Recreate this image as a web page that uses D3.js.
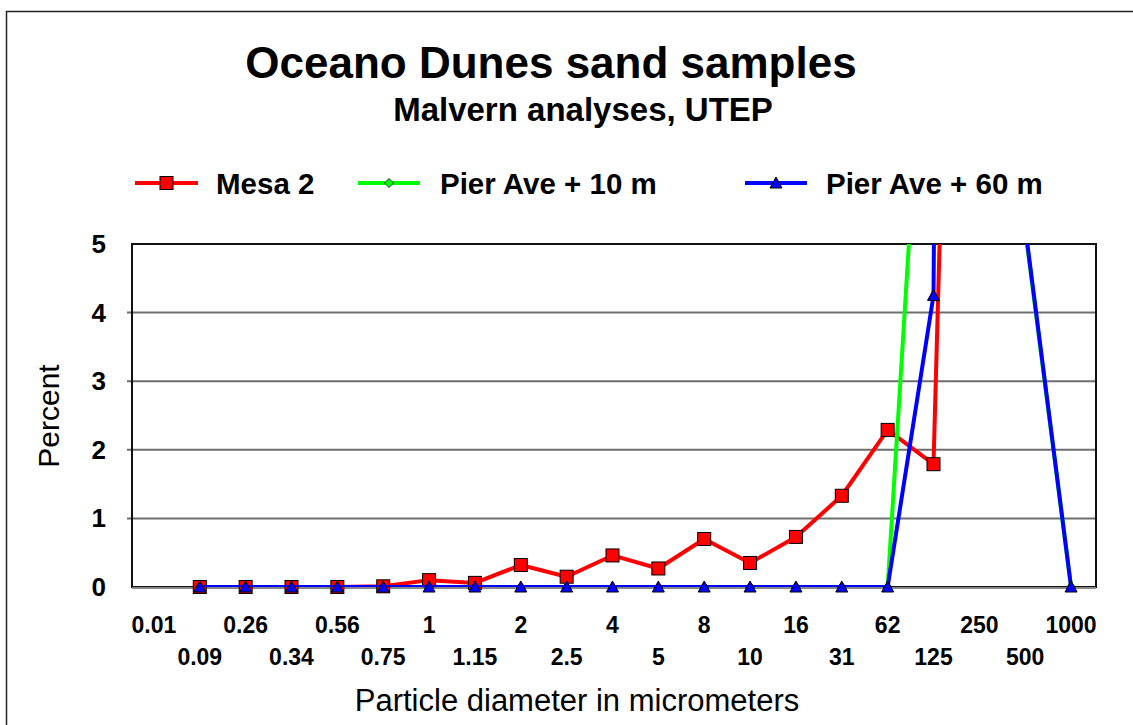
<!DOCTYPE html>
<html>
<head>
<meta charset="utf-8">
<script src="https://cdn.jsdelivr.net/npm/d3@7"></script>
<style>
  html, body { margin: 0; padding: 0; background: #fff; }
  svg { display: block; }
  text { font-family: "Liberation Sans", Arial, Helvetica, sans-serif; }
</style>
</head>
<body>
<svg id="chart" width="1133" height="725"></svg>
<script>
// ---------- data ----------
const categories = ["0.01","0.09","0.26","0.34","0.56","0.75","1","1.15","2","2.5","4","5","8","10","16","31","62","125","250","500","1000"];
const mesa2     = [null, 0, 0, 0, 0, 0.01, 0.10, 0.06, 0.32, 0.15, 0.46, 0.27, 0.70, 0.35, 0.73, 1.33, 2.29, 1.79, 26, 65, null];
const pier10    = [null, 0, 0, 0, 0, 0, 0, 0, 0, 0, 0, 0, 0, 0, 0, 0, 0, 10.8, 84, 5.2, 0];
const pier60    = [null, 0, 0, 0, 0, 0, 0, 0, 0, 0, 0, 0, 0, 0, 0, 0, 0, 4.25, 90.5, 5.25, 0];
const yTicks    = [0, 1, 2, 3, 4, 5];
const seriesNames = ["Mesa 2", "Pier Ave + 10 m", "Pier Ave + 60 m"];

// ---------- layout ----------
const svg = d3.select("#chart");
const plotLeft = 132, plotRight = 1096, plotTop = 244, plotBottom = 587;

const x = d3.scalePoint().domain(categories).range([plotLeft - 1, plotRight - 2]).padding(0.5);
const y = d3.scaleLinear().domain([0, 5]).range([plotBottom, plotTop]);

// outer chart border
svg.append("rect").attr("x", 6.5).attr("y", 11.5).attr("width", 1200).attr("height", 800)
  .attr("fill", "#fff").attr("stroke", "#222").attr("stroke-width", 1.5);

// titles
svg.append("text").attr("x", 551).attr("y", 78).attr("text-anchor", "middle")
  .attr("font-size", 44).attr("font-weight", "bold").text("Oceano Dunes sand samples");
svg.append("text").attr("x", 583).attr("y", 121).attr("text-anchor", "middle")
  .attr("font-size", 33).attr("font-weight", "bold").text("Malvern analyses, UTEP");

// gridlines
svg.append("g").selectAll("line").data(yTicks.filter(d => d > 0 && d < 5)).join("line")
  .attr("x1", plotLeft - 5).attr("x2", plotRight)
  .attr("y1", d => y(d)).attr("y2", d => y(d))
  .attr("stroke", "#6e6e6e").attr("stroke-width", 2);

// plot border
svg.append("rect").attr("x", plotLeft).attr("y", plotTop)
  .attr("width", plotRight - plotLeft).attr("height", plotBottom - plotTop)
  .attr("fill", "none").attr("stroke", "#111").attr("stroke-width", 2);
svg.append("line").attr("x1", plotLeft).attr("x2", plotRight)
  .attr("y1", plotBottom + 1).attr("y2", plotBottom + 1)
  .attr("stroke", "#888").attr("stroke-width", 2);

// y tick labels
svg.append("g").selectAll("text").data(yTicks).join("text")
  .attr("x", 106).attr("y", d => y(d) + 9).attr("text-anchor", "end")
  .attr("font-size", 26).attr("font-weight", "bold").text(d => d);

// x tick labels, alternating two rows
svg.append("g").selectAll("text").data(categories).join("text")
  .attr("x", d => x(d)).attr("y", (d, i) => i % 2 === 0 ? 633 : 665)
  .attr("text-anchor", "middle").attr("font-size", 23).attr("font-weight", "bold")
  .text(d => d);

// axis titles
svg.append("text").attr("transform", "translate(59,416) rotate(-90)").attr("text-anchor", "middle")
  .attr("font-size", 30).text("Percent");
svg.append("text").attr("x", 577).attr("y", 711).attr("text-anchor", "middle")
  .attr("font-size", 31).text("Particle diameter in micrometers");

// clips: lines clipped to the plot area, markers allowed to overhang a little
const defs = svg.append("defs");
defs.append("clipPath").attr("id", "clip").append("rect")
  .attr("x", plotLeft).attr("y", plotTop).attr("width", plotRight - plotLeft).attr("height", plotBottom - plotTop);
defs.append("clipPath").attr("id", "clipM").append("rect")
  .attr("x", plotLeft - 10).attr("y", plotTop - 10).attr("width", plotRight - plotLeft + 20).attr("height", plotBottom - plotTop + 20);

const series = [
  { name: seriesNames[0], values: mesa2, color: "#ff0000", marker: "square" },
  { name: seriesNames[1], values: pier10, color: "#00ff00", marker: "diamond" },
  { name: seriesNames[2], values: pier60, color: "#0000ff", marker: "triangle" }
];

const line = d3.line()
  .defined(d => d.v !== null)
  .x(d => x(d.c)).y(d => y(d.v));

function drawMarker(g, type, color, cx, cy, scale) {
  const s = scale || 1;
  if (type === "square") {
    g.append("rect").attr("x", cx - 6.5 * s).attr("y", cy - 6.5 * s)
      .attr("width", 13 * s).attr("height", 13 * s)
      .attr("fill", color).attr("stroke", "#000").attr("stroke-width", 1);
  } else if (type === "diamond") {
    const r = 4.5 * s;
    g.append("path").attr("d", `M${cx},${cy - r}L${cx + r},${cy}L${cx},${cy + r}L${cx - r},${cy}Z`)
      .attr("fill", color).attr("stroke", "#000").attr("stroke-width", 0.8);
  } else {
    const h = 10 * s, w = 12 * s;
    g.append("path").attr("d", `M${cx},${cy - h / 2 - 1}L${cx + w / 2},${cy + h / 2}L${cx - w / 2},${cy + h / 2}Z`)
      .attr("fill", color).attr("stroke", "#000").attr("stroke-width", 1);
  }
}

const lineG = svg.append("g").attr("clip-path", "url(#clip)");
const markG = svg.append("g").attr("clip-path", "url(#clipM)");
series.forEach(s => {
  const pts = categories.map((c, i) => ({ c, v: s.values[i] }));
  const sg = svg.append("g");
  sg.append("g").attr("clip-path", "url(#clip)").append("path").datum(pts).attr("d", line)
    .attr("fill", "none").attr("stroke", s.color).attr("stroke-width", 4)
    .attr("stroke-linejoin", "round");
  const mg = sg.append("g").attr("clip-path", "url(#clipM)");
  pts.filter(p => p.v !== null && p.v <= 5).forEach(p => drawMarker(mg, s.marker, s.color, x(p.c), y(p.v)));
});

// legend
const legendItems = [
  { x1: 135, x2: 198, tx: 216 },
  { x1: 358, x2: 420, tx: 440 },
  { x1: 745, x2: 807, tx: 826 }
];
const legendY = 183;
series.forEach((s, i) => {
  const L = legendItems[i];
  const g = svg.append("g");
  g.append("line").attr("x1", L.x1).attr("x2", L.x2).attr("y1", legendY).attr("y2", legendY)
    .attr("stroke", s.color).attr("stroke-width", 4);
  drawMarker(g, s.marker, s.color, (L.x1 + L.x2) / 2, legendY);
  g.append("text").attr("x", L.tx).attr("y", legendY + 11)
    .attr("font-size", 29.5).attr("font-weight", "bold").text(s.name);
});
</script>
</body>
</html>
